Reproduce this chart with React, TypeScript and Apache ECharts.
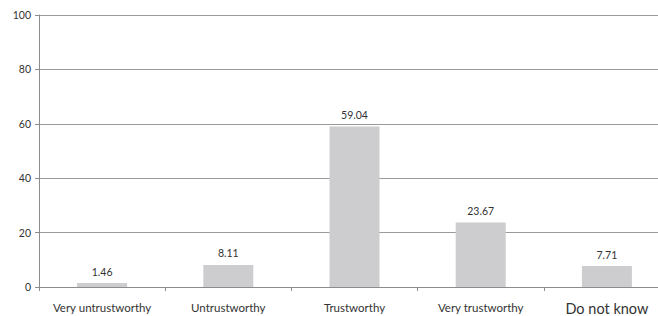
import React, { useEffect, useRef } from "react";
import * as echarts from "echarts";

const categories = ["Very untrustworthy", "Untrustworthy", "Trustworthy", "Very trustworthy", "Do not know"];
const values = [1.46, 8.11, 59.04, 23.67, 7.71];
const yTicks = [0, 20, 40, 60, 80, 100];

export default function App() {
  const ref = useRef<HTMLDivElement>(null);
  useEffect(() => {
    const chart = echarts.init(ref.current!, null, { renderer: "svg" });
    chart.setOption({
      animation: false,
      grid: { left: 39, top: 15, right: 10, height: 273 },
      xAxis: {
        type: "category",
        data: categories,
        axisLine: { lineStyle: { color: "#8c8c8c", width: 1 } },
        axisTick: { show: true, interval: 0, length: 4, lineStyle: { color: "#8c8c8c" } },
        axisLabel: {
          interval: 0,
          hideOverlap: false,
          color: "#333",
          fontFamily: "Lato",
          fontSize: 11.5,
          margin: 14,
          formatter: (v: string) => (v === "Do not know" ? "{big|" + v + "}" : v),
          rich: { big: { fontSize: 14.5, fontFamily: "Lato", color: "#333", padding: [0, 0, 8, 0] } },
        },
      },
      yAxis: {
        type: "value",
        min: yTicks[0],
        max: yTicks[yTicks.length - 1],
        interval: 20,
        axisLine: { show: true, lineStyle: { color: "#8c8c8c" } },
        axisTick: { show: true, length: 4, lineStyle: { color: "#8c8c8c" } },
        splitLine: { lineStyle: { color: "#9a9a9a", width: 1 } },
        axisLabel: { color: "#333", fontFamily: "Lato", fontSize: 10.5, margin: 8 },
      },
      series: [
        {
          type: "bar",
          data: values,
          barWidth: 50,
          itemStyle: { color: "#cdcdcf" },
          label: {
            show: true,
            position: "top",
            distance: 6,
            color: "#333",
            fontFamily: "Lato",
            fontSize: 10.5,
            formatter: (p: any) => p.value.toFixed(2),
          },
        },
      ],
    });
    return () => chart.dispose();
  }, []);
  return (
    <div style={{ width: 658, height: 316, position: "absolute", left: 0, top: 0, overflow: "hidden" }}>
      <div ref={ref} style={{ width: 680, height: 316 }} />
    </div>
  );
}
